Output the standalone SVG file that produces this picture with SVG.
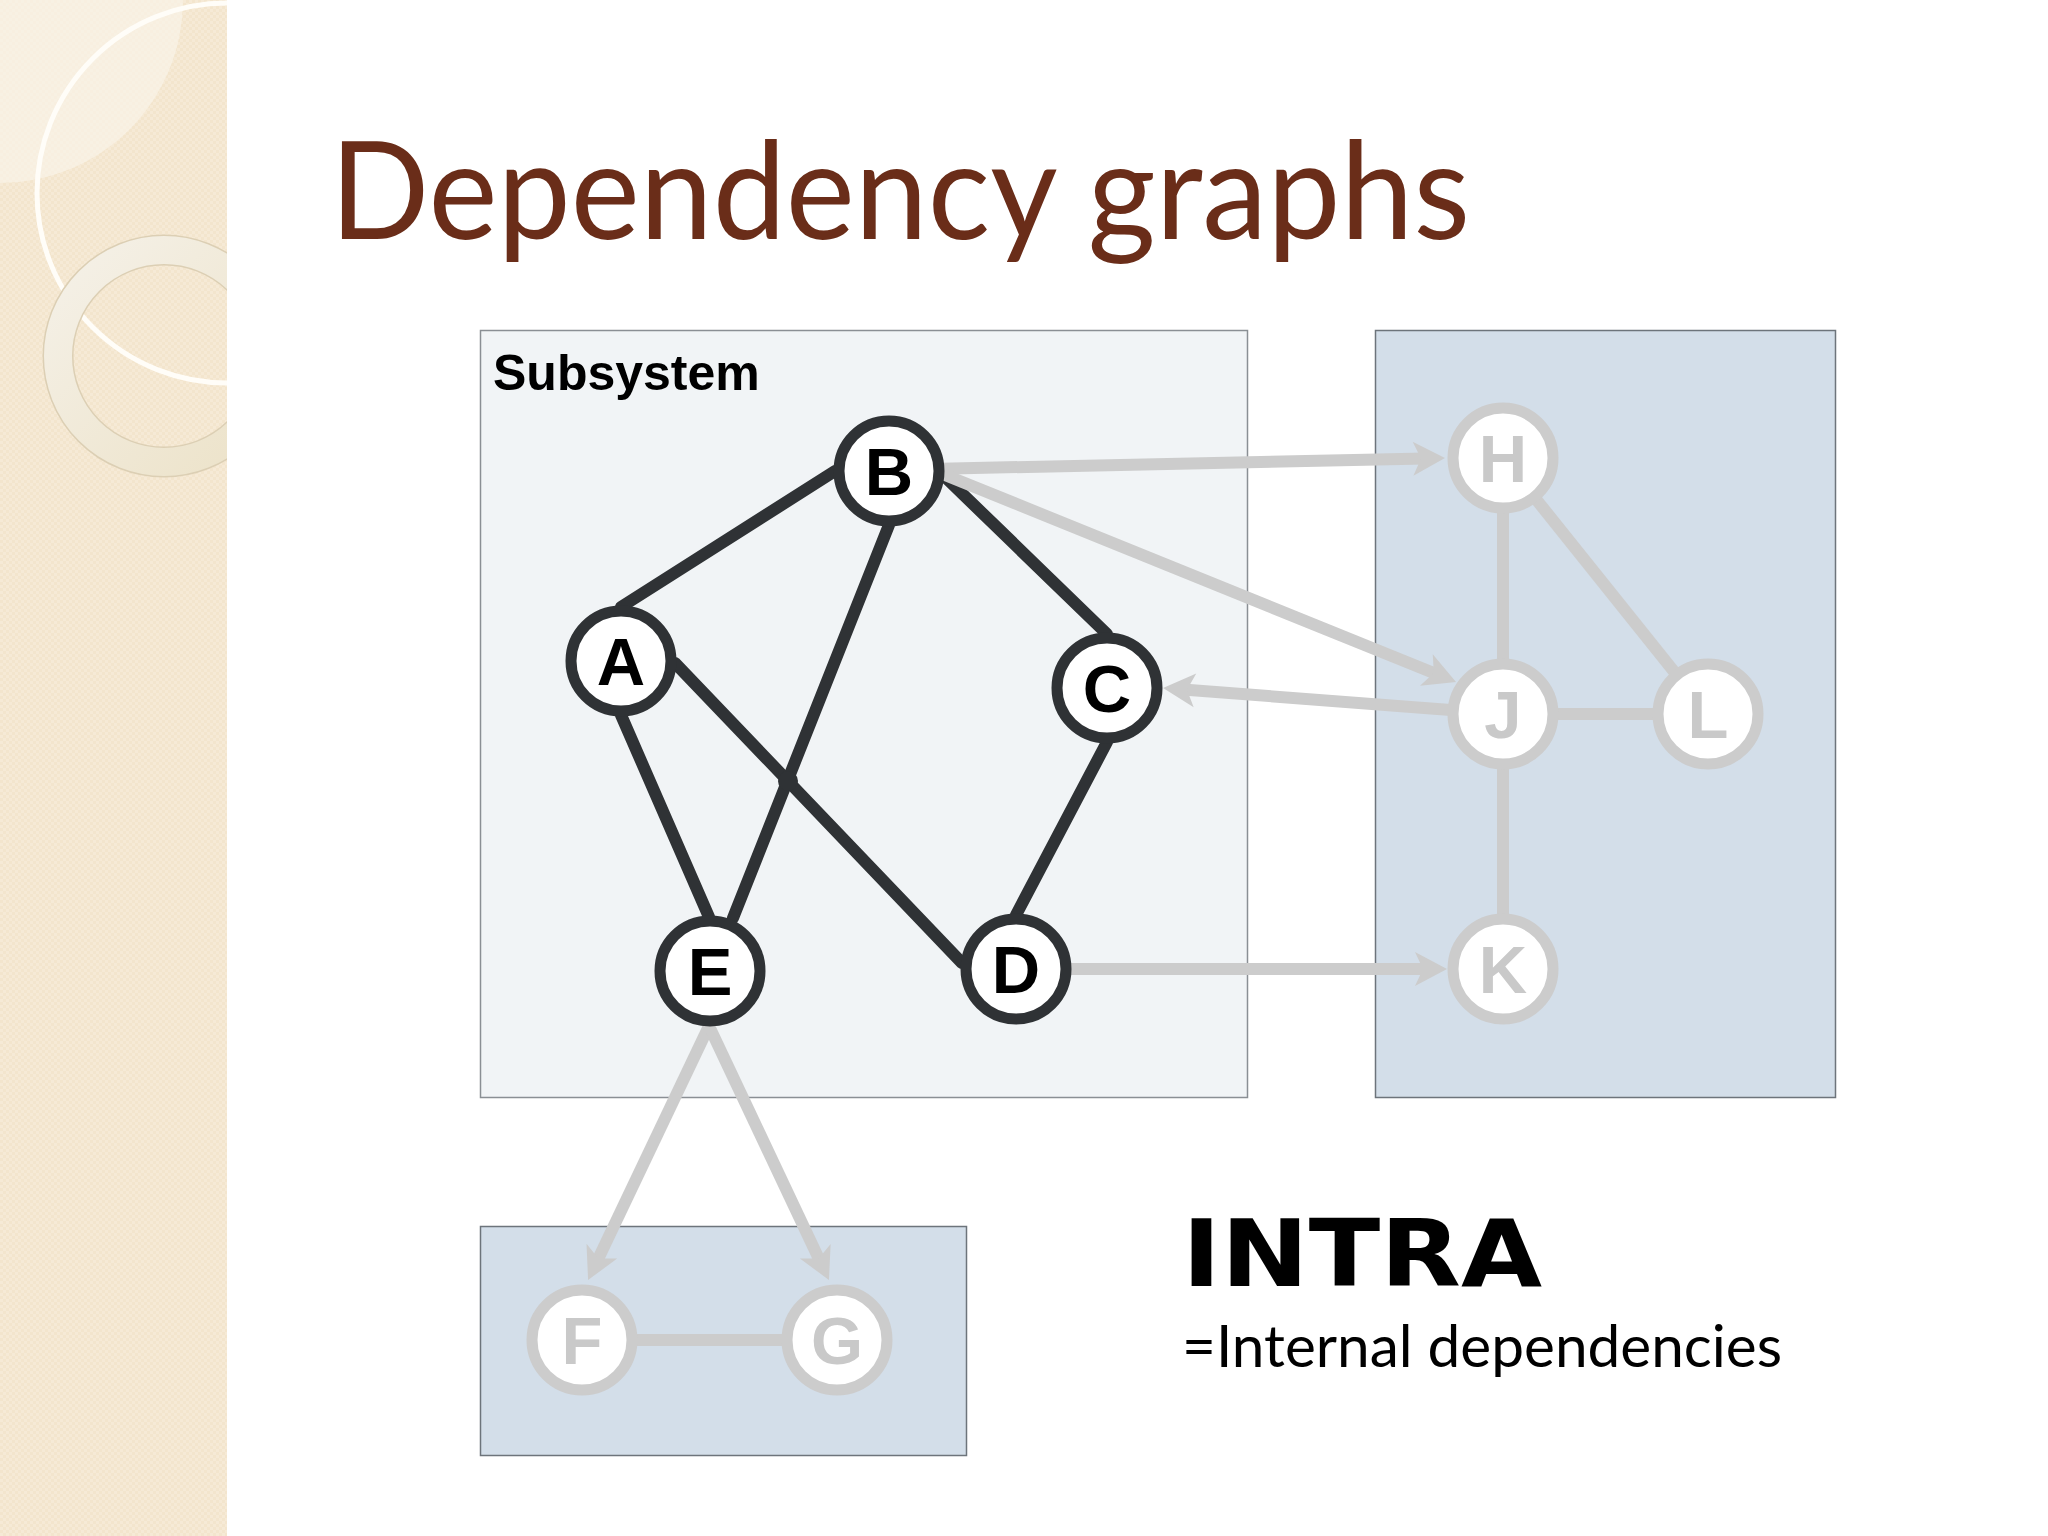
<svg xmlns="http://www.w3.org/2000/svg" width="2048" height="1536" viewBox="0 0 2048 1536">
<defs>
<style>
.dark{stroke:#2f3235;stroke-width:12;fill:none;stroke-linecap:round}
.gray{stroke:#cccccc;stroke-width:12;fill:none}
.nd circle{fill:#ffffff;stroke:#2f3235;stroke-width:11}
.nd text{font-family:"Liberation Sans",Arial,sans-serif;font-weight:bold;font-size:67px;fill:#000;text-anchor:middle}
.ng circle{fill:#ffffff;stroke:#cccccc;stroke-width:11}
.ng text{font-family:"Liberation Sans",Arial,sans-serif;font-weight:bold;font-size:67px;fill:#c9c9c9;text-anchor:middle}
</style>
<marker id="ah" markerUnits="userSpaceOnUse" markerWidth="40" markerHeight="40" viewBox="-14 -20 36 40" refX="0" refY="0" orient="auto">
<path d="M20,0 L-12,-17 L-4,0 L-12,17 Z" fill="#cccccc"/>
</marker>
<clipPath id="strip"><rect x="0" y="0" width="227" height="1536"/></clipPath>
<pattern id="chk" width="6" height="6" patternUnits="userSpaceOnUse">
<rect width="6" height="6" fill="#f6eAd6"/>
<rect width="3" height="3" fill="#f3e5cd"/>
<rect x="3" y="3" width="3" height="3" fill="#f3e5cd"/>
</pattern>
<linearGradient id="ringg" x1="0" y1="0" x2="1" y2="1">
<stop offset="0" stop-color="#f5f1e8"/>
<stop offset="1" stop-color="#ece2c8"/>
</linearGradient>
</defs>
<rect x="0" y="0" width="2048" height="1536" fill="#ffffff"/>
<g id="background" clip-path="url(#strip)">
<rect x="0" y="0" width="227" height="1536" fill="url(#chk)"/>
<path d="M0,0 L183,0 A183,183 0 0 1 0,183 Z" fill="#f9f3e8" opacity="0.7"/>
<circle cx="227" cy="193" r="190" fill="none" stroke="#fffdf8" stroke-width="5"/>
<circle cx="164" cy="356" r="106" fill="none" stroke="#dccfb4" stroke-width="31"/>
<circle cx="164" cy="356" r="106" fill="none" stroke="url(#ringg)" stroke-width="28"/>
</g>
<text id="title" x="330" y="239" font-family="Lato,'Open Sans',sans-serif" font-size="136" fill="#6a2d19" textLength="1140" lengthAdjust="spacingAndGlyphs">Dependency graphs</text>
<g id="boxes">
<rect id="subsystem" x="480.5" y="330.5" width="767" height="767" fill="#f1f4f6" stroke="#8a8f94" stroke-width="1.5"/>
<rect id="external-right" x="1375.5" y="330.5" width="460" height="767" fill="#d3dee9" stroke="#6d747b" stroke-width="1.5"/>
<rect id="external-bottom" x="480.5" y="1226.5" width="486" height="229" fill="#d3dee9" stroke="#6d747b" stroke-width="1.5"/>
<text x="493" y="390" font-family="'Liberation Sans',Arial,sans-serif" font-weight="bold" font-size="50" fill="#000">Subsystem</text>
</g>
<g id="connectors">
<line class="dark" x1="621" y1="607" x2="835" y2="471"/>
<line class="dark" x1="889" y1="525" x2="733" y2="918"/>
<line class="dark" x1="943" y1="475" x2="1107" y2="634"/>
<line class="dark" x1="675" y1="663" x2="962" y2="963"/>
<line class="dark" x1="1107" y1="742" x2="1016" y2="915"/>
<line class="dark" x1="621" y1="715" x2="709" y2="917"/>
<circle cx="788" cy="781" r="10" fill="#2f3235"/>
<line class="gray" x1="1503" y1="458" x2="1503" y2="714"/>
<line class="gray" x1="1503" y1="458" x2="1708" y2="714"/>
<line class="gray" x1="1503" y1="714" x2="1708" y2="714"/>
<line class="gray" x1="1503" y1="714" x2="1503" y2="969"/>
<line class="gray" x1="582" y1="1340" x2="837" y2="1340"/>
<line class="gray" x1="930" y1="469" x2="1425" y2="458.4" marker-end="url(#ah)"/>
<line class="gray" x1="940" y1="473" x2="1437.5" y2="674.5" marker-end="url(#ah)"/>
<line class="gray" x1="1503" y1="714" x2="1183" y2="689.5" marker-end="url(#ah)"/>
<line class="gray" x1="1016" y1="969" x2="1427" y2="969" marker-end="url(#ah)"/>
<line class="gray" x1="709" y1="1026" x2="596.7" y2="1262" marker-end="url(#ah)"/>
<line class="gray" x1="709" y1="1026" x2="820.4" y2="1262" marker-end="url(#ah)"/>
</g>
<g id="node-A" class="nd"><circle cx="621" cy="661" r="50"/><text x="621" y="685">A</text></g>
<g id="node-B" class="nd"><circle cx="889" cy="471" r="50"/><text x="889" y="495">B</text></g>
<g id="node-C" class="nd"><circle cx="1107" cy="688" r="50"/><text x="1107" y="712">C</text></g>
<g id="node-D" class="nd"><circle cx="1016" cy="969" r="50"/><text x="1016" y="993">D</text></g>
<g id="node-E" class="nd"><circle cx="710" cy="971" r="50"/><text x="710" y="995">E</text></g>
<g id="node-H" class="ng"><circle cx="1503" cy="458" r="50"/><text x="1503" y="482">H</text></g>
<g id="node-J" class="ng"><circle cx="1503" cy="714" r="50"/><text x="1503" y="738">J</text></g>
<g id="node-L" class="ng"><circle cx="1708" cy="714" r="50"/><text x="1708" y="738">L</text></g>
<g id="node-K" class="ng"><circle cx="1503" cy="969" r="50"/><text x="1503" y="993">K</text></g>
<g id="node-F" class="ng"><circle cx="582" cy="1340" r="50"/><text x="582" y="1364">F</text></g>
<g id="node-G" class="ng"><circle cx="837" cy="1340" r="50"/><text x="837" y="1364">G</text></g>
<text id="intra" x="1182" y="1286" font-family="'DejaVu Sans','Liberation Sans',sans-serif" font-weight="bold" font-size="93" fill="#000" textLength="360" lengthAdjust="spacingAndGlyphs">INTRA</text>
<text id="intra-sub" x="1182" y="1367" font-family="Lato,'Open Sans',sans-serif" font-size="58" fill="#000" textLength="600" lengthAdjust="spacingAndGlyphs">=Internal dependencies</text>
</svg>
